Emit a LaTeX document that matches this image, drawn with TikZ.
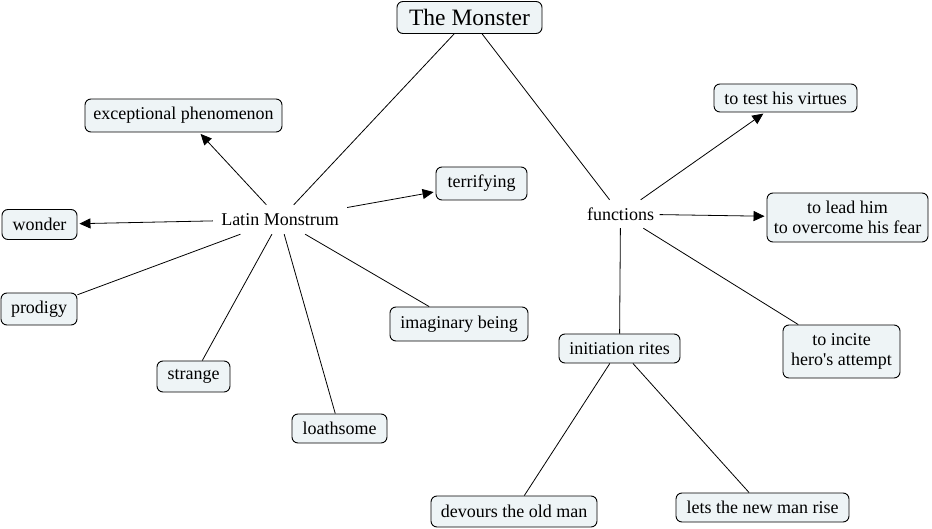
\documentclass[tikz,border=0pt]{standalone}
\usepackage{fontspec}
\setmainfont{Liberation Serif}[Ligatures=TeXOff]
\usetikzlibrary{arrows.meta}
\definecolor{boxfill}{RGB}{238,244,246}
\tikzset{
  concept/.style={draw=black, line width=0.9pt, rounded corners=6pt, fill=boxfill,
    inner sep=0pt, align=center, font=\fontsize{18}{20.5}\selectfont},
  phrase/.style={inner sep=0pt, font=\fontsize{18}{20.5}\selectfont},
  link/.style={line width=0.8pt},
  arr/.style={line width=0.8pt, -{Triangle[length=11pt,width=10pt]}, shorten >=2pt},
}
\begin{document}
\begin{tikzpicture}[x=1pt,y=-1pt]
\useasboundingbox (0,0) rectangle (932,529);
\node[concept, minimum width=145pt, minimum height=32pt, font=\fontsize{23.5}{26}\selectfont] (monster) at (469.5,17.5) {The Monster};
\node[concept, minimum width=197pt, minimum height=33pt] (exc) at (183.5,115.5) {exceptional phenomenon};
\node[concept, minimum width=75pt, minimum height=30pt] (wonder) at (39.5,224.5) {wonder};
\node[concept, minimum width=91pt, minimum height=33pt] (terr) at (481.5,183.5) {terrifying};
\node[concept, minimum width=76pt, minimum height=32pt] (prodigy) at (39,309) {prodigy};
\node[concept, minimum width=73pt, minimum height=31pt] (strange) at (193.5,376.5) {strange};
\node[concept, minimum width=95pt, minimum height=29pt] (loath) at (339.5,428.5) {loathsome};
\node[concept, minimum width=138pt, minimum height=34pt] (imag) at (459,324) {imaginary being};
\node[concept, minimum width=143pt, minimum height=28pt] (test) at (785.5,98) {to test his virtues};
\node[concept, minimum width=161pt, minimum height=49pt] (lead) at (847.5,217.5) {to lead him\\to overcome his fear};
\node[concept, minimum width=117pt, minimum height=53pt] (incite) at (841.5,351.5) {to incite\\hero's attempt};
\node[concept, minimum width=121pt, minimum height=29pt] (init) at (619.5,348.5) {initiation rites};
\node[concept, minimum width=166pt, minimum height=31pt] (devours) at (514,511.5) {devours the old man};
\node[concept, minimum width=173pt, minimum height=29pt] (lets) at (762.5,507.5) {lets the new man rise};
\node[phrase, minimum width=134pt, minimum height=29pt] (latin) at (280,219.5) {Latin Monstrum};
\node[phrase, minimum width=78pt, minimum height=28pt] (func) at (620.5,214) {functions};
% connectors
\draw[link] (monster) -- (latin);
\draw[link] (monster) -- (func);
\draw[arr] (latin) -- (exc);
\draw[arr] (latin) -- (wonder);
\draw[arr] (latin) -- (terr);
\draw[link] (latin) -- (prodigy);
\draw[link] (latin) -- (strange);
\draw[link] (latin) -- (loath);
\draw[link] (latin) -- (imag);
\draw[arr] (func) -- (test);
\draw[arr] (func) -- (lead);
\draw[link] (func) -- (incite);
\draw[link] (func) -- (init);
\draw[link] (init) -- (devours);
\draw[link] (init) -- (lets);
\end{tikzpicture}
\end{document}
